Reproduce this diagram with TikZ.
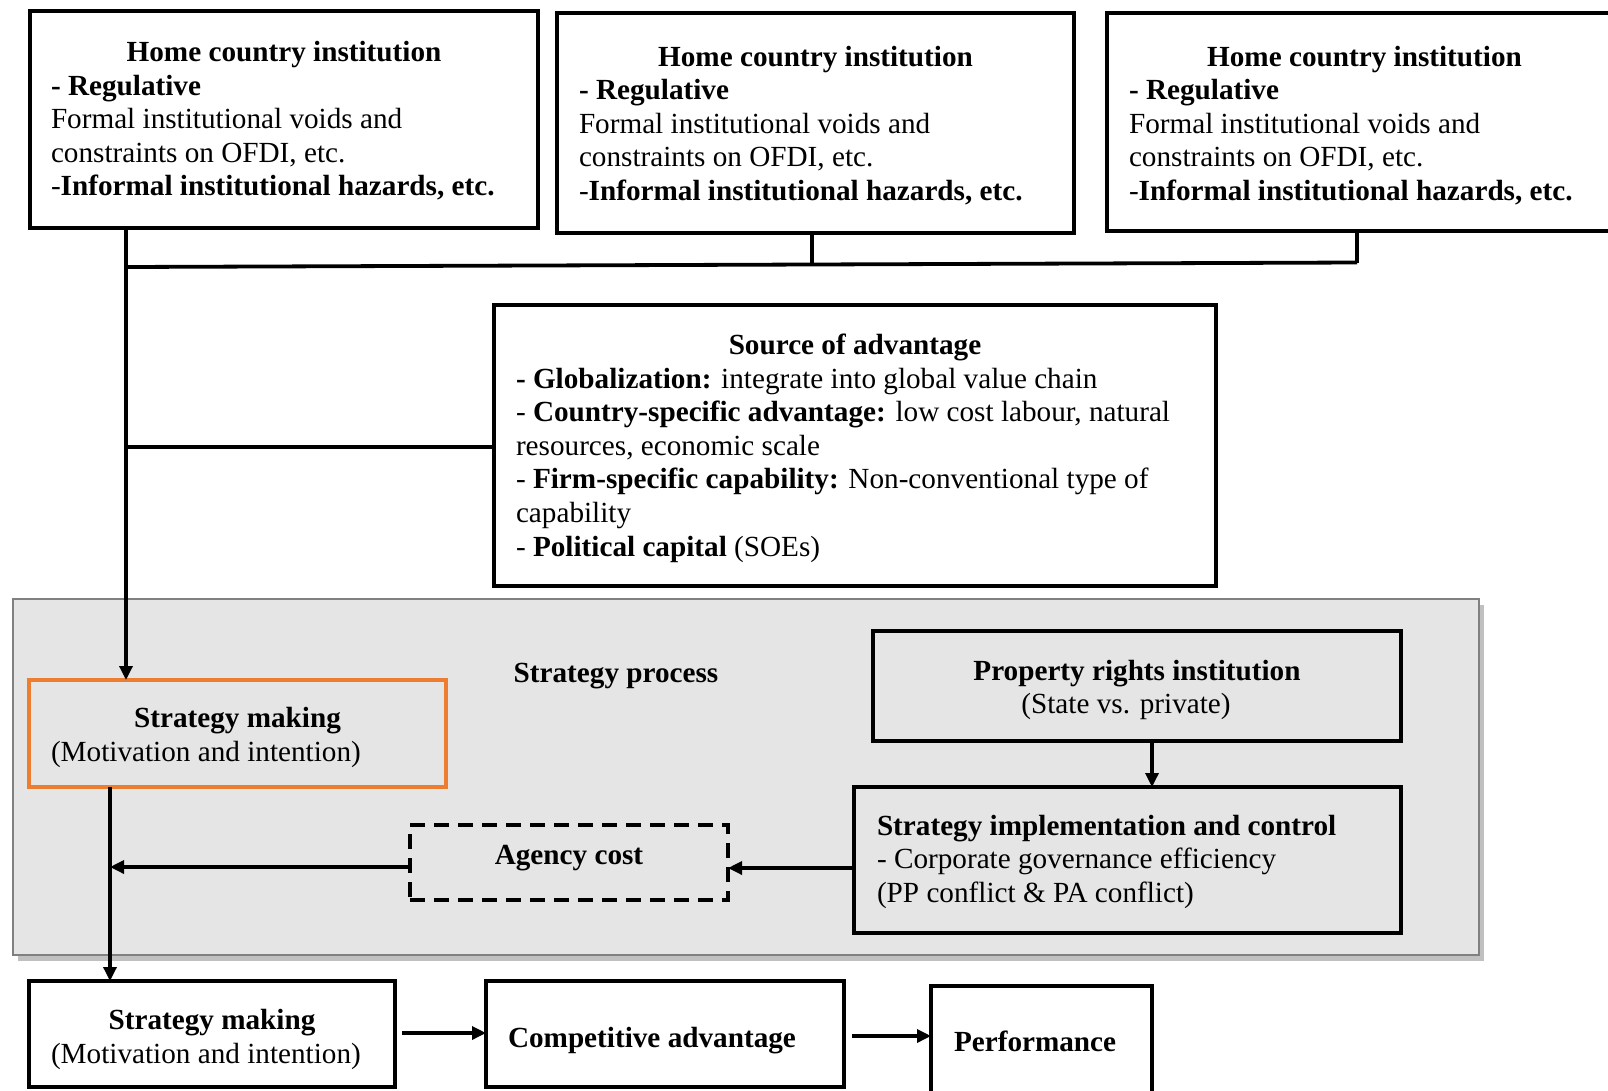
\documentclass[tikz,border=0pt]{standalone}
\usepackage{fontspec}
\setmainfont{Liberation Serif}
\usetikzlibrary{arrows.meta,calc}
\definecolor{panelgrey}{RGB}{229,229,229}
\definecolor{paneledge}{RGB}{128,128,128}
\definecolor{panelshadow}{RGB}{192,192,192}
\definecolor{accent}{RGB}{237,125,49}

\begin{document}
\begin{tikzpicture}[x=1pt,y=-1pt,
  box/.style={draw=black,line width=3.5pt,rectangle,inner sep=0pt,outer sep=0pt},
  dashbox/.style={box,dash pattern=on 15pt off 9pt},
  conn/.style={line width=3.3pt},
  bus/.style={line width=3.8pt},
  arr/.style={conn,-{Triangle[length=14pt,width=13pt]}},
  txt/.style={inner sep=0pt,outer sep=0pt,anchor=base west,font=\fontsize{29.2}{33.6}\selectfont},
  btxt/.style={txt,font=\fontsize{29.2}{33.6}\selectfont\bfseries},
  ctxt/.style={txt,anchor=base},
  cbtxt/.style={btxt,anchor=base},
]
\useasboundingbox (0,0) rectangle (1608,1090);
\fill[white] (0,0) rectangle (1608,1090);

% strategy process panel with its shadow
\fill[panelshadow] (18,605) rectangle (1484,961);
\filldraw[fill=panelgrey,draw=paneledge,line width=2.4pt] (13,599) rectangle (1479,955);
\node[cbtxt] (sp) at (616,682.5) {Strategy process};

% home country institution boxes
\node[box,minimum width=508pt,minimum height=217pt] (hc1) at (284,119.5) {};
\node[box,minimum width=517pt,minimum height=220pt] (hc2) at (815.5,123) {};
\node[box,minimum width=515pt,minimum height=218pt] (hc3) at (1364.5,122) {};

\node[cbtxt] (hc1h) at (284,61.5) {Home country institution};
\node[btxt] (hc1a) at (51,95.1) {- Regulative};
\node[txt] (hc1b) at (51,128.7) {Formal institutional voids and};
\node[txt] (hc1c) at (51,162.3) {constraints on OFDI, etc.};
\node[txt] (hc1d) at (51,195.9) {-\textbf{Informal institutional hazards, etc.}};

\node[cbtxt] (hc2h) at (815.5,66) {Home country institution};
\node[btxt] (hc2a) at (579,99.6) {- Regulative};
\node[txt] (hc2b) at (579,133.2) {Formal institutional voids and};
\node[txt] (hc2c) at (579,166.8) {constraints on OFDI, etc.};
\node[txt] (hc2d) at (579,200.4) {-\textbf{Informal institutional hazards, etc.}};

\node[cbtxt] (hc3h) at (1364.5,66) {Home country institution};
\node[btxt] (hc3a) at (1129,99.6) {- Regulative};
\node[txt] (hc3b) at (1129,133.2) {Formal institutional voids and};
\node[txt] (hc3c) at (1129,166.8) {constraints on OFDI, etc.};
\node[txt] (hc3d) at (1129,200.4) {-\textbf{Informal institutional hazards, etc.}};

% source of advantage
\node[box,minimum width=722pt,minimum height=281pt] (src) at (855,445.5) {};
\node[cbtxt] (srch) at (855,354.5) {Source of advantage};
\node[txt] (src1) at (516,388.1) {\textbf{- Globalization:} integrate into global value chain};
\node[txt] (src2) at (516,421.7) {- \textbf{Country-specific advantage:} low cost labour, natural};
\node[txt] (src3) at (516,455.3) {resources, economic scale};
\node[txt] (src4) at (516,488.9) {- \textbf{Firm-specific capability:} Non-conventional type of};
\node[txt] (src5) at (516,522.5) {capability};
\node[txt] (src6) at (516,556.1) {- \textbf{Political capital} (SOEs)};

% boxes inside the panel
\node[box,draw=accent,minimum width=417pt,minimum height=107pt] (sm1) at (237.5,733.5) {};
\node[cbtxt] (sm1h) at (237.5,727) {Strategy making};
\node[txt] (sm1a) at (51,761.5) {(Motivation and intention)};

\node[box,minimum width=528pt,minimum height=110pt] (pr) at (1137,686) {};
\node[cbtxt] (prh) at (1137,680) {Property rights institution};
\node[ctxt] (pra) at (1126,713.5) {(State vs. private)};

\node[box,minimum width=547pt,minimum height=146pt] (si) at (1127.5,860) {};
\node[btxt] (sih) at (877,835) {Strategy implementation and control};
\node[txt] (sia) at (877,868.6) {- Corporate governance efficiency};
\node[txt] (sib) at (877,902.2) {(PP conflict \& PA conflict)};

\node[dashbox,minimum width=318pt,minimum height=75pt] (ag) at (569,862.5) {};
\node[cbtxt] (agh) at (569,864) {Agency cost};

% outcome row
\node[box,minimum width=366pt,minimum height=106pt] (sm2) at (212,1034) {};
\node[cbtxt] (sm2h) at (212,1029) {Strategy making};
\node[txt] (sm2a) at (51,1063) {(Motivation and intention)};

\node[box,minimum width=358pt,minimum height=106pt] (ca) at (665,1034) {};
\node[btxt] (cah) at (508,1047) {Competitive advantage};

\node[box,minimum width=221pt,minimum height=110pt] (pf) at (1041.5,1041) {};
\node[btxt] (pfh) at (954,1051) {Performance};

% connectors from the institutional boxes
\coordinate (j1) at (126,267);
\coordinate (j2) at (812,264.5);
\coordinate (j3) at (1357,262.5);
\coordinate (js) at (126,447);
\draw[bus] (j1) -- (j2) -- (j3);
\draw[conn] (hc2.south -| j2) -- (j2);
\draw[conn] (hc3.south -| j3) -- (j3);
\draw[conn] (js) -- (src.west |- js);
\draw[arr] (hc1.south -| j1) -- (sm1.north -| j1);

% strategy process flows
\coordinate (k1) at (110,867);
\draw[arr] (sm1.south -| k1) -- (sm2.north -| k1);
\draw[arr] (ag.west |- k1) -- (k1);
\coordinate (k2) at (1152,868);
\draw[arr] (si.west |- k2) -- (ag.east |- k2);
\draw[arr] (pr.south -| k2) -- (si.north -| k2);

% outcome flows
\coordinate (m1) at (402,1033);
\coordinate (m2) at (852,1036);
\draw[arr] (m1) -- (ca.west |- m1);
\draw[arr] (m2) -- (pf.west |- m2);
\end{tikzpicture}
\end{document}
